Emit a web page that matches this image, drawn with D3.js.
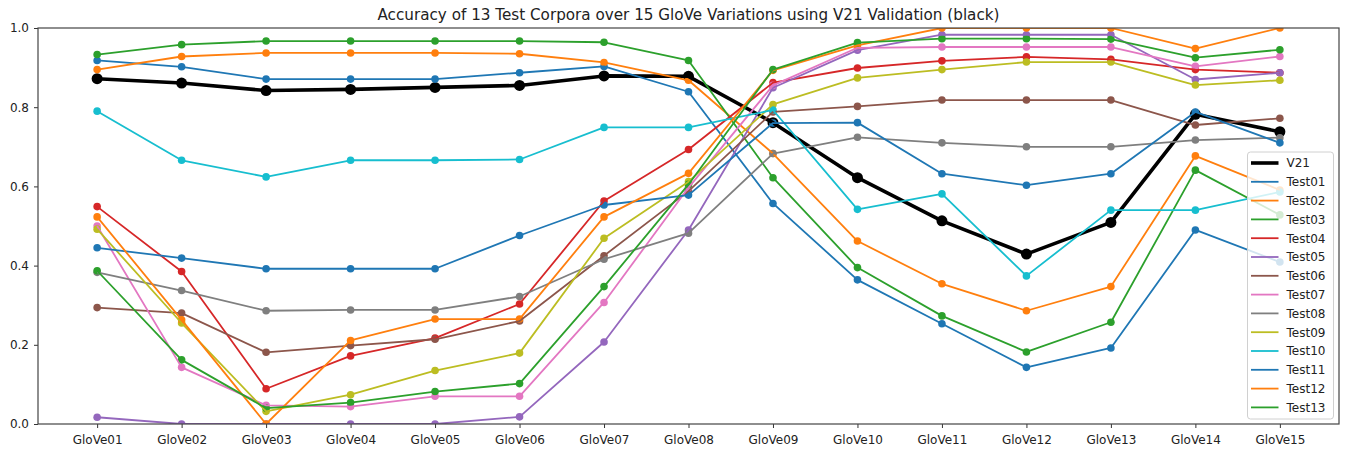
<!DOCTYPE html>
<html>
<head>
<meta charset="utf-8">
<script src="https://cdn.jsdelivr.net/npm/d3@7"></script>
<style>
  html, body { margin: 0; padding: 0; background: #fff; }
  svg { display: block; font-family: "DejaVu Sans", sans-serif; }
</style>
</head>
<body>
<div id="chart"></div>
<script>
// GloVe variations along the x axis
const categories = ["GloVe01","GloVe02","GloVe03","GloVe04","GloVe05","GloVe06","GloVe07",
  "GloVe08","GloVe09","GloVe10","GloVe11","GloVe12","GloVe13","GloVe14","GloVe15"];

// Accuracy per corpus
const V21    = [0.872,0.861,0.842,0.845,0.850,0.855,0.879,0.878,0.761,0.622,0.513,0.429,0.509,0.782,0.738];
const Test01 = [0.918,0.902,0.871,0.871,0.871,0.887,0.903,0.839,0.557,0.364,0.253,0.143,0.192,0.490,0.409];
const Test02 = [0.895,0.928,0.937,0.937,0.937,0.935,0.913,0.868,0.683,0.462,0.354,0.286,0.347,0.677,0.591];
const Test03 = [0.933,0.958,0.967,0.967,0.967,0.967,0.964,0.918,0.622,0.395,0.273,0.182,0.257,0.641,0.528];
const Test04 = [0.549,0.385,0.089,0.172,0.217,0.303,0.563,0.693,0.862,0.899,0.917,0.927,0.921,0.895,0.887];
const Test05 = [0.017,0.000,0.000,0.000,0.000,0.018,0.207,0.490,0.849,0.944,0.983,0.983,0.983,0.870,0.887];
const Test06 = [0.294,0.280,0.181,0.198,0.214,0.260,0.425,0.588,0.788,0.802,0.818,0.818,0.818,0.755,0.772];
const Test07 = [0.500,0.143,0.047,0.044,0.070,0.070,0.307,0.597,0.855,0.950,0.952,0.952,0.952,0.903,0.928];
const Test08 = [0.383,0.337,0.286,0.288,0.288,0.322,0.416,0.482,0.683,0.724,0.710,0.700,0.700,0.717,0.723];
const Test09 = [0.492,0.255,0.032,0.074,0.135,0.179,0.469,0.612,0.807,0.874,0.895,0.914,0.914,0.856,0.868];
const Test10 = [0.790,0.666,0.624,0.666,0.666,0.668,0.749,0.749,0.793,0.542,0.581,0.374,0.540,0.540,0.586];
const Test11 = [0.445,0.419,0.392,0.392,0.392,0.476,0.553,0.578,0.760,0.761,0.632,0.603,0.632,0.788,0.710];
const Test12 = [0.523,0.263,0.000,0.211,0.265,0.265,0.523,0.633,0.893,0.956,1.000,1.000,1.000,0.948,1.000];
const Test13 = [0.387,0.162,0.040,0.054,0.082,0.102,0.347,0.605,0.895,0.963,0.973,0.973,0.972,0.925,0.945];

const seriesNames = ["V21","Test01","Test02","Test03","Test04","Test05","Test06","Test07",
  "Test08","Test09","Test10","Test11","Test12","Test13"];
const seriesValues = [V21,Test01,Test02,Test03,Test04,Test05,Test06,Test07,Test08,Test09,Test10,Test11,Test12,Test13];
const seriesColors = ["#000000","#1f77b4","#ff7f0e","#2ca02c","#d62728","#9467bd","#8c564b",
  "#e377c2","#7f7f7f","#bcbd22","#17becf","#1f77b4","#ff7f0e","#2ca02c"];
const yTicks = [0.0,0.2,0.4,0.6,0.8,1.0];

const W = 1346, H = 453;
const plot = { left: 38, right: 1339, top: 28, bottom: 424 };

const svg = d3.select("#chart").append("svg").attr("width", W).attr("height", H);

const x = d3.scalePoint().domain(categories).range([plot.left, plot.right]).padding(0.7);
const y = d3.scaleLinear().domain([0, 1]).range([plot.bottom, plot.top]);

const series = seriesNames.map((name, i) => ({
  name, color: seriesColors[i], values: seriesValues[i], main: name === "V21"
}));

svg.append("defs").append("clipPath").attr("id", "plotClip")
  .append("rect").attr("x", plot.left).attr("y", plot.top)
  .attr("width", plot.right - plot.left).attr("height", plot.bottom - plot.top);

const g = svg.append("g").attr("clip-path", "url(#plotClip)");

// markers sit beneath the lines
series.forEach(s => {
  g.append("g").selectAll("circle").data(s.values).join("circle")
    .attr("cx", (d, i) => x(categories[i]))
    .attr("cy", d => y(d))
    .attr("r", s.main ? 5.5 : 3.8)
    .attr("fill", s.color);
});

const line = d3.line().x((d, i) => x(categories[i])).y(d => y(d));
series.forEach(s => {
  g.append("path").datum(s.values)
    .attr("d", line)
    .attr("fill", "none")
    .attr("stroke", s.color)
    .attr("stroke-width", s.main ? 3.6 : 1.8)
    .attr("stroke-linejoin", "round");
});

// axes
const xAxis = svg.append("g").attr("transform", `translate(0,${plot.bottom})`)
  .call(d3.axisBottom(x).tickSizeOuter(0).tickSize(4).tickPadding(7));
const yAxis = svg.append("g").attr("transform", `translate(${plot.left},0)`)
  .call(d3.axisLeft(y).tickValues(yTicks).tickFormat(d3.format(".1f")).tickSizeOuter(0).tickSize(4).tickPadding(5));
[xAxis, yAxis].forEach(a => {
  a.select(".domain").remove();
  a.selectAll("line").attr("stroke", "#333").attr("stroke-width", 1);
  a.selectAll("text").attr("font-size", 12).attr("fill", "#222").attr("font-family", "DejaVu Sans");
});

// frame
svg.append("rect")
  .attr("x", plot.left).attr("y", plot.top)
  .attr("width", plot.right - plot.left).attr("height", plot.bottom - plot.top)
  .attr("fill", "none").attr("stroke", "#444").attr("stroke-width", 1.2);

// title
svg.append("text")
  .attr("x", (plot.left + plot.right) / 2).attr("y", 20)
  .attr("text-anchor", "middle").attr("font-size", 15.2).attr("fill", "#222")
  .text("Accuracy of 13 Test Corpora over 15 GloVe Variations using V21 Validation (black)");

// legend
const leg = svg.append("g");
const lx = 1247.5, ly = 152, lw = 86, lh = 267, rowH = 18.8;
leg.append("rect").attr("x", lx).attr("y", ly).attr("width", lw).attr("height", lh)
  .attr("rx", 3).attr("fill", "rgba(255,255,255,0.8)").attr("stroke", "#d0d0d0").attr("stroke-width", 1);
series.forEach((s, i) => {
  const cy = ly + 11 + i * rowH;
  leg.append("line").attr("x1", lx + 3.5).attr("x2", lx + 31).attr("y1", cy).attr("y2", cy)
    .attr("stroke", s.color).attr("stroke-width", s.main ? 3.6 : 1.8);
  leg.append("text").attr("x", lx + 39).attr("y", cy).attr("dy", "0.36em")
    .attr("font-size", 12).attr("fill", "#222").text(s.name);
});
</script>
</body>
</html>
